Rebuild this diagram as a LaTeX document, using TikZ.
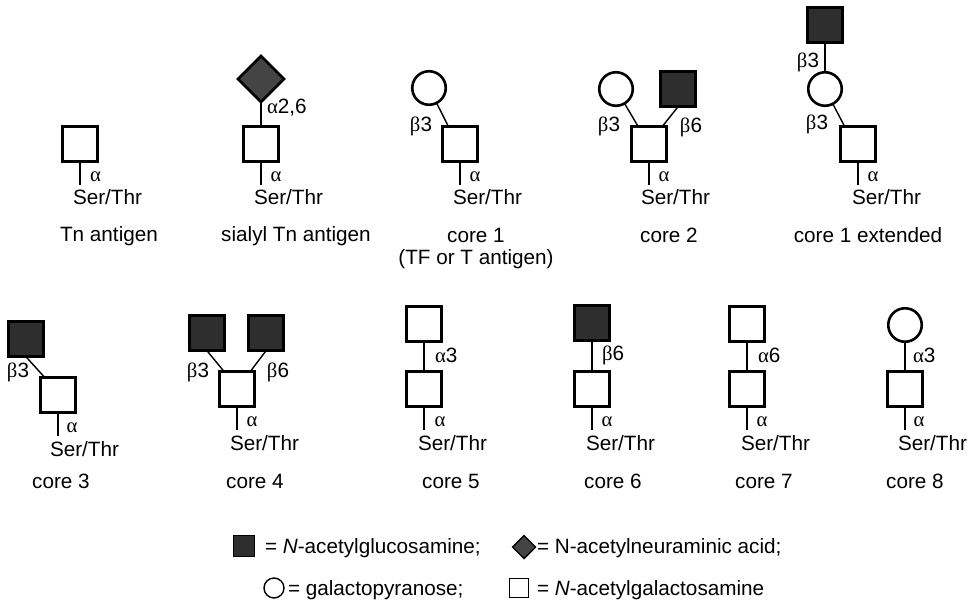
\documentclass[tikz,border=0pt]{standalone}
\usepackage{fontspec}
\setmainfont{Liberation Sans}
\newfontfamily\grk{Liberation Serif}
\usetikzlibrary{shapes.geometric,calc}
\definecolor{glc}{HTML}{2E2E2E}
\definecolor{sia}{HTML}{444444}
\begin{document}
\begin{tikzpicture}[x=1pt,y=-1pt,
  every node/.style={inner sep=0pt, outer sep=0pt},
  txt/.style={font=\fontsize{20.7}{24}\selectfont},
  galnac/.style={draw, rectangle, line width=2.7pt, fill=white, minimum size=35.5pt},
  glcnac/.style={galnac, fill=glc},
  gal/.style={draw, circle, line width=2.6pt, fill=white, minimum size=33.5pt},
  neu/.style={draw, diamond, line width=2.7pt, fill=sia, minimum size=46pt},
  link/.style={line width=1.4pt},
  lab/.style={txt, anchor=center},
  labw/.style={txt, anchor=west},
  ser/.style={txt, anchor=base west},
  captxt/.style={txt, anchor=base},
  lgline/.style={draw, line width=1.4pt},
]
\useasboundingbox (0,0) rectangle (974,600);

% ---------- Tn antigen
\node[galnac] (tnS) at (80,144) {};
\coordinate (tnE) at (80,185);
\draw[link] (tnS) -- (tnE);
\node[lab] (tnA) at (95.5,177) {\grk α};
\node[ser] (tnT) at (73,204) {Ser/Thr};
\node[captxt] (tnC) at (109,241) {Tn antigen};

% ---------- sialyl Tn antigen
\node[neu] (stD) at (261,79) {};
\node[galnac] (stS) at (261,144) {};
\draw[link] (stD) -- (stS);
\node[labw] (stL) at (267,108) {{\grk α}2,6};
\coordinate (stE) at (261,185);
\draw[link] (stS) -- (stE);
\node[lab] (stA) at (276,177) {\grk α};
\node[ser] (stT) at (254,204) {Ser/Thr};
\node[captxt] (stC) at (296,241) {sialyl Tn antigen};

% ---------- core 1
\node[gal] (c1G) at (429,88) {};
\node[galnac] (c1S) at (460,144) {};
\coordinate (c1K) at ($(c1S.north west)!0.17!(c1S.north east)$);
\draw[link] (c1G) -- (c1K);
\node[lab] (c1L) at (421,126) {{\grk β}3};
\coordinate (c1E) at (460,185);
\draw[link] (c1S) -- (c1E);
\node[lab] (c1A) at (475,177) {\grk α};
\node[ser] (c1T) at (453,204) {Ser/Thr};
\node[captxt] (c1C) at (476,242) {core 1};
\node[captxt] (c1D) at (476,264) {(TF or T antigen)};

% ---------- core 2
\node[gal] (c2G) at (616,89) {};
\node[glcnac] (c2N) at (678,89) {};
\node[galnac] (c2S) at (649,144) {};
\coordinate (c2K1) at ($(c2S.north west)!0.19!(c2S.north east)$);
\coordinate (c2K2) at ($(c2S.north west)!0.88!(c2S.north east)$);
\draw[link] (c2G) -- (c2K1);
\draw[link] (c2N.south) -- (c2K2);
\node[lab] (c2L1) at (609,126) {{\grk β}3};
\node[lab] (c2L2) at (691,127) {{\grk β}6};
\coordinate (c2E) at (649,185);
\draw[link] (c2S) -- (c2E);
\node[lab] (c2A) at (664,177) {\grk α};
\node[ser] (c2T) at (641,204) {Ser/Thr};
\node[captxt] (c2C) at (669,242) {core 2};

% ---------- core 1 extended
\node[glcnac] (ceN) at (825,25) {};
\node[gal] (ceG) at (825,89) {};
\node[galnac] (ceS) at (858,144) {};
\draw[link] (ceN) -- (ceG);
\coordinate (ceK) at ($(ceS.north west)!0.12!(ceS.north east)$);
\draw[link] (ceG) -- (ceK);
\node[lab] (ceL1) at (808,62) {{\grk β}3};
\node[lab] (ceL2) at (817,124) {{\grk β}3};
\coordinate (ceE) at (858,185);
\draw[link] (ceS) -- (ceE);
\node[lab] (ceA) at (873,177) {\grk α};
\node[ser] (ceT) at (852,204) {Ser/Thr};
\node[captxt] (ceC) at (868,242) {core 1 extended};

% ---------- core 3
\node[glcnac] (c3N) at (26,339) {};
\node[galnac] (c3S) at (58,395) {};
\coordinate (c3K) at ($(c3S.north west)!0.12!(c3S.north east)$);
\draw[link] (c3N.south) -- (c3K);
\node[lab] (c3L) at (18,372) {{\grk β}3};
\coordinate (c3E) at (58,436);
\draw[link] (c3S) -- (c3E);
\node[lab] (c3A) at (72,428) {\grk α};
\node[ser] (c3T) at (50,456) {Ser/Thr};
\node[captxt] (c3C) at (61,488) {core 3};

% ---------- core 4
\node[glcnac] (c4N1) at (207,333) {};
\node[glcnac] (c4N2) at (266,333) {};
\node[galnac] (c4S) at (237,389) {};
\coordinate (c4K1) at ($(c4S.north west)!0.13!(c4S.north east)$);
\coordinate (c4K2) at ($(c4S.north west)!0.88!(c4S.north east)$);
\draw[link] (c4N1.south) -- (c4K1);
\draw[link] (c4N2.south) -- (c4K2);
\node[lab] (c4L1) at (198,372) {{\grk β}3};
\node[lab] (c4L2) at (278,372) {{\grk β}6};
\coordinate (c4E) at (237,430);
\draw[link] (c4S) -- (c4E);
\node[lab] (c4A) at (252,422) {\grk α};
\node[ser] (c4T) at (230,450) {Ser/Thr};
\node[captxt] (c4C) at (255,488) {core 4};

% ---------- core 5
\node[galnac] (c5U) at (424,324) {};
\node[galnac] (c5S) at (424,389) {};
\draw[link] (c5U) -- (c5S);
\node[labw] (c5L) at (435,355) {{\grk α}3};
\coordinate (c5E) at (424,430);
\draw[link] (c5S) -- (c5E);
\node[lab] (c5A) at (440,422) {\grk α};
\node[ser] (c5T) at (418,450) {Ser/Thr};
\node[captxt] (c5C) at (451,488) {core 5};

% ---------- core 6
\node[glcnac] (c6U) at (592,323) {};
\node[galnac] (c6S) at (592,389) {};
\draw[link] (c6U) -- (c6S);
\node[labw] (c6L) at (602,355) {{\grk β}6};
\coordinate (c6E) at (592,430);
\draw[link] (c6S) -- (c6E);
\node[lab] (c6A) at (607,422) {\grk α};
\node[ser] (c6T) at (586,450) {Ser/Thr};
\node[captxt] (c6C) at (613,488) {core 6};

% ---------- core 7
\node[galnac] (c7U) at (747,324) {};
\node[galnac] (c7S) at (747,389) {};
\draw[link] (c7U) -- (c7S);
\node[labw] (c7L) at (758,355) {{\grk α}6};
\coordinate (c7E) at (747,430);
\draw[link] (c7S) -- (c7E);
\node[lab] (c7A) at (762,422) {\grk α};
\node[ser] (c7T) at (741,450) {Ser/Thr};
\node[captxt] (c7C) at (764,488) {core 7};

% ---------- core 8
\node[gal] (c8U) at (905,325) {};
\node[galnac] (c8S) at (905,389) {};
\draw[link] (c8U) -- (c8S);
\node[labw] (c8L) at (913,355) {{\grk α}3};
\coordinate (c8E) at (905,430);
\draw[link] (c8S) -- (c8E);
\node[lab] (c8A) at (919,422) {\grk α};
\node[ser] (c8T) at (898,450) {Ser/Thr};
\node[captxt] (c8C) at (915,488) {core 8};

% ---------- legend
\node[lgline, rectangle, fill=glc, minimum size=21.5pt] (lgN) at (244,546) {};
\node[ser] (lgNt) at (265,553) {= \textit{N}-acetylglucosamine;};
\node[lgline, diamond, fill=sia, minimum size=23pt] (lgD) at (524,547) {};
\node[ser] (lgDt) at (537,553) {= N-acetylneuraminic acid;};
\node[lgline, circle, minimum size=20pt] (lgG) at (274,588) {};
\node[ser] (lgGt) at (288,595) {= galactopyranose;};
\node[lgline, rectangle, minimum size=19pt] (lgS) at (519,588) {};
\node[ser] (lgSt) at (537,595) {= \textit{N}-acetylgalactosamine};
\end{tikzpicture}
\end{document}
